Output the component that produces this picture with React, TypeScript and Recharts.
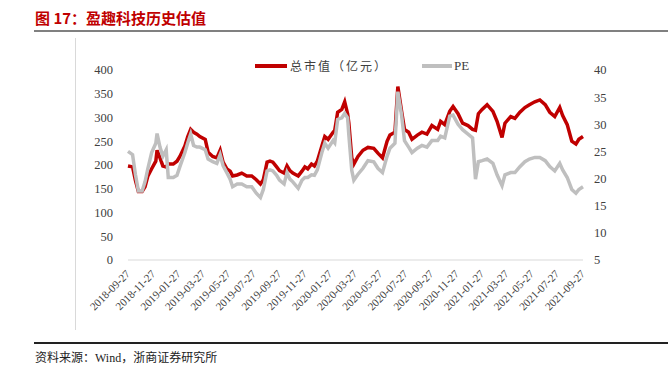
import React from 'react';
import { LineChart, Line, XAxis, YAxis, Legend } from 'recharts';

// 日期 / 总市值(亿元) / PE
const dates = [
  '2018-09-27', '2018-10-08', '2018-10-15', '2018-10-22', '2018-10-31', '2018-11-07', '2018-11-14', '2018-11-23',
  '2018-12-03', '2018-12-06', '2018-12-13', '2018-12-20', '2018-12-28', '2019-01-02', '2019-01-14', '2019-01-23',
  '2019-01-30', '2019-02-11', '2019-02-18', '2019-02-25', '2019-03-04', '2019-03-12', '2019-03-19', '2019-04-01',
  '2019-04-08', '2019-04-19', '2019-04-29', '2019-05-07', '2019-05-14', '2019-05-23', '2019-05-31', '2019-06-06',
  '2019-06-17', '2019-06-28', '2019-07-10', '2019-07-22', '2019-08-02', '2019-08-12', '2019-08-19', '2019-08-28',
  '2019-09-04', '2019-09-11', '2019-09-20', '2019-09-27', '2019-10-08', '2019-10-15', '2019-10-22', '2019-10-29',
  '2019-11-11', '2019-11-20', '2019-11-27', '2019-12-04', '2019-12-13', '2019-12-20', '2019-12-27', '2020-01-07',
  '2020-01-14', '2020-01-22', '2020-02-03', '2020-02-07', '2020-02-14', '2020-02-24', '2020-03-02', '2020-03-09',
  '2020-03-12', '2020-03-19', '2020-03-24', '2020-04-03', '2020-04-15', '2020-04-27', '2020-05-11', '2020-05-21',
  '2020-06-01', '2020-06-12', '2020-06-19', '2020-07-01', '2020-07-08', '2020-07-17', '2020-07-24', '2020-08-03',
  '2020-08-11', '2020-08-24', '2020-09-04', '2020-09-16', '2020-09-28', '2020-10-12', '2020-10-19', '2020-10-29',
  '2020-11-10', '2020-11-18', '2020-11-30', '2020-12-11', '2020-12-24', '2021-01-04', '2021-01-11', '2021-01-18',
  '2021-01-27', '2021-02-08', '2021-02-22', '2021-03-04', '2021-03-16', '2021-03-23', '2021-04-06', '2021-04-16',
  '2021-04-28', '2021-05-10', '2021-05-21', '2021-06-03', '2021-06-15', '2021-06-28', '2021-07-09', '2021-07-21',
  '2021-08-02', '2021-08-09', '2021-08-20', '2021-08-31', '2021-09-10', '2021-09-17', '2021-09-27',
];

const marketCap = [
  198, 196, 167, 144, 144, 154, 177, 192,
  208, 231, 215, 198, 196, 202, 202, 208,
  218, 240, 260, 275, 269, 265, 260, 254,
  227, 218, 215, 231, 206, 192, 187, 177,
  179, 183, 177, 177, 169, 160, 169, 206,
  208, 206, 196, 188, 183, 198, 188, 183,
  177, 187, 196, 192, 202, 198, 208, 240,
  260, 254, 269, 273, 311, 317, 333, 308,
  288, 215, 202, 218, 231, 237, 235, 225,
  215, 250, 263, 269, 365, 313, 275, 269,
  254, 263, 269, 265, 283, 275, 292, 285,
  313, 323, 308, 288, 283, 275, 273, 308,
  317, 327, 313, 292, 258, 288, 302, 298,
  311, 321, 327, 333, 337, 327, 311, 302,
  321, 304, 285, 250, 244, 254, 260,
];

const pe = [
  25.0, 24.4, 20.7, 17.7, 17.7, 19.4, 21.9, 24.8,
  26.5, 28.3, 25.8, 24.1, 25.3, 20.2, 20.2, 20.6,
  22.2, 24.8, 26.6, 28.2, 26.1, 25.8, 25.8, 25.3,
  23.6, 23.1, 22.8, 24.4, 22.4, 21.1, 19.9, 18.5,
  19.0, 19.0, 18.5, 18.5, 17.3, 16.5, 18.0, 21.4,
  21.6, 21.4, 20.6, 19.7, 19.0, 21.1, 19.9, 19.4,
  18.2, 19.7, 20.2, 20.2, 20.7, 20.6, 21.6, 24.8,
  26.5, 25.6, 27.0, 26.6, 30.9, 31.2, 32.0, 31.2,
  28.0, 21.5, 19.7, 20.8, 21.9, 23.3, 23.1, 21.9,
  21.1, 24.1, 25.6, 26.5, 36.0, 31.7, 27.0, 25.8,
  24.8, 25.6, 26.1, 25.8, 27.0, 27.0, 27.8, 27.5,
  31.5, 31.7, 30.0, 29.0, 28.2, 27.5, 19.9, 23.1,
  23.3, 23.6, 22.8, 20.7, 18.7, 20.7, 21.1, 21.1,
  22.2, 23.1, 23.6, 23.9, 23.9, 23.3, 22.2, 21.4,
  22.8, 21.6, 20.2, 18.0, 17.3, 18.0, 18.5,
];

const tickDates = [
  '2018-09-27', '2018-11-27', '2019-01-27', '2019-03-27', '2019-05-27', '2019-07-27',
  '2019-09-27', '2019-11-27', '2020-01-27', '2020-03-27', '2020-05-27', '2020-07-27',
  '2020-09-27', '2020-11-27', '2021-01-27', '2021-03-27', '2021-05-27', '2021-07-27', '2021-09-27',
];

const leftTicks = [0, 50, 100, 150, 200, 250, 300, 350, 400];
const rightTicks = [5, 10, 15, 20, 25, 30, 35, 40];

const ts = (d: string) => Date.parse(d + 'T00:00:00Z');
const data = dates.map((d, i) => ({ t: ts(d), cap: marketCap[i], pe: pe[i] }));
const tickValues = tickDates.map(ts);
const tickLabel: Record<number, string> = {};
tickDates.forEach(d => { tickLabel[ts(d)] = d; });

const RED = '#C00000';
const GRAY = '#BFBFBF';
const SERIF = '"Liberation Serif", "Times New Roman", serif';
const CJK = '"Liberation Serif", "Noto Sans CJK SC", sans-serif';

const DateTick = (props: any) => {
  const { x, y, payload } = props;
  return (
    <g transform={`translate(${x},${y + 12})`}>
      <text textAnchor="end" transform="rotate(-45)" dy="0.35em" fontSize={11} fontFamily={SERIF} fill="#404040">
        {tickLabel[payload.value]}
      </text>
    </g>
  );
};

const LegendBox = () => (
  <div style={{ display: 'flex', alignItems: 'center', fontSize: 12, color: '#404040', fontFamily: CJK }}>
    <span style={{ width: 32, height: 4, background: RED, display: 'inline-block', marginRight: 3 }} />
    <span style={{ letterSpacing: 2 }}>总市值（亿元）</span>
    <span style={{ width: 30, height: 4, background: GRAY, display: 'inline-block', marginLeft: 34, marginRight: 2 }} />
    <span style={{ fontFamily: SERIF, fontSize: 13 }}>PE</span>
  </div>
);

const App: React.FC = () => {
  return (
    <div style={{ position: 'absolute', left: 0, top: 0, width: 668, height: 376, background: '#fff', overflow: 'hidden' }}>
      {/* 标题 */}
      <div style={{ position: 'absolute', left: 35, top: 7, fontSize: 15, fontWeight: 'bold', color: RED, fontFamily: '"Noto Sans CJK SC", sans-serif', whiteSpace: 'nowrap' }}>
        图 17：盈趣科技历史估值
      </div>
      <div style={{ position: 'absolute', left: 34, top: 30, width: 634, height: 2, background: '#808080' }} />
      <div style={{ position: 'absolute', left: 75, top: 38, width: 1, height: 292, background: '#D9D9D9' }} />

      <div style={{ position: 'absolute', left: 0, top: 0 }}>
        <LineChart width={668} height={376} data={data} margin={{ top: 52, right: 35, bottom: 46, left: 60 }}>
          <XAxis
            dataKey="t"
            type="number"
            domain={[tickValues[0], tickValues[tickValues.length - 1]]}
            ticks={tickValues}
            interval={0}
            height={70}
            tickSize={0}
            tickMargin={0}
            tickLine={false}
            axisLine={{ stroke: '#D9D9D9' }}
            tick={<DateTick />}
          />
          <YAxis
            yAxisId="left"
            domain={[0, 400]}
            ticks={leftTicks}
            width={68}
            axisLine={false}
            tickLine={false}
            tickSize={0}
            tickMargin={15}
            tick={{ fontSize: 12.5, fontFamily: SERIF, fill: '#404040' }}
          />
          <YAxis
            yAxisId="right"
            orientation="right"
            domain={[5, 40]}
            ticks={rightTicks}
            width={50}
            axisLine={false}
            tickLine={false}
            tickSize={0}
            tickMargin={11}
            tick={{ fontSize: 12.5, fontFamily: SERIF, fill: '#404040', textAnchor: 'start' }}
          />
          <Legend
            verticalAlign="top"
            content={<LegendBox />}
            wrapperStyle={{ top: 57, left: 255, width: 260 }}
          />
          <Line yAxisId="left" dataKey="cap" name="总市值（亿元）" stroke={RED} strokeWidth={3.5} dot={false} isAnimationActive={false} />
          <Line yAxisId="right" dataKey="pe" name="PE" stroke={GRAY} strokeWidth={3.5} dot={false} isAnimationActive={false} />
        </LineChart>
      </div>

      <div style={{ position: 'absolute', left: 34, top: 342, width: 634, height: 2, background: '#222' }} />
      <div style={{ position: 'absolute', left: 35, top: 348, fontSize: 12, color: '#222', fontFamily: CJK, whiteSpace: 'nowrap' }}>
        资料来源：Wind，浙商证券研究所
      </div>
    </div>
  );
};

export default App;
